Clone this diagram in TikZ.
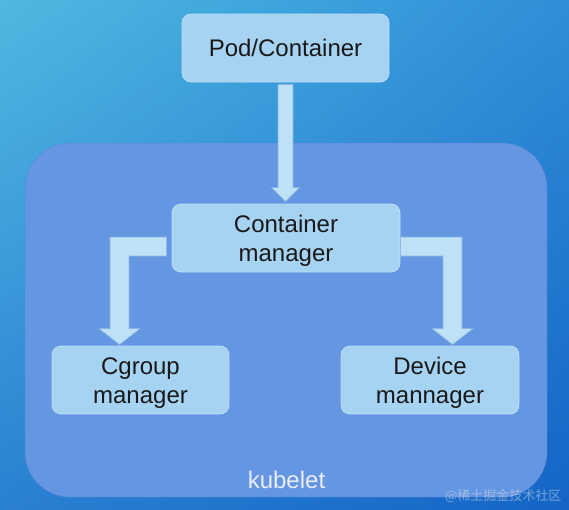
\documentclass[tikz,border=0pt]{standalone}
\usepackage{fontspec}
\setmainfont{Liberation Sans}
\newfontfamily\cjkfont{Noto Sans CJK SC}
\usetikzlibrary{calc,shadings}

\definecolor{bgtl}{HTML}{4FB9E0}
\definecolor{bgtr}{HTML}{2E8ED8}
\definecolor{bgbl}{HTML}{2A80D2}
\definecolor{bgbr}{HTML}{1564C6}
\definecolor{kubefill}{HTML}{6596E2}
\definecolor{kubeline}{HTML}{5585D6}
\definecolor{boxfill}{HTML}{A6D3F2}
\definecolor{boxline}{HTML}{B9DEF6}
\definecolor{arrowfill}{HTML}{BEE1F6}
\definecolor{arrowline}{HTML}{86B4E6}

\tikzset{
  box/.style={draw=boxline, line width=0.8pt, fill=boxfill, rounded corners=9pt,
    align=center, font=\fontsize{24}{29}\selectfont, text=black!90,
    minimum height=68pt, inner sep=0pt},
  twoline/.style={text height=52.5pt},
  fat/.style={draw=arrowline, line width=0.6pt, fill=arrowfill},
}

\begin{document}
\begin{tikzpicture}[x=1pt, y=-1pt]
    \useasboundingbox (0,0) rectangle (569,509);
    \shade[upper left=bgtl, upper right=bgtr, lower left=bgbl, lower right=bgbr]
      (0,0) rectangle (569,509);

    % kubelet frame
    \draw[draw=kubeline, fill=kubefill, rounded corners=45pt] (25,143) rectangle (547,497);
    \node[text=white!92!blue, font=\fontsize{24}{29}\selectfont] (kubelet) at (286.5,480) {kubelet};

    % components
    \node[box, minimum width=207pt] (pod) at (285.5,48) {Pod/Container};
    \node[box, twoline, minimum width=228pt] (cm) at (286,238) {Container\\manager};
    \node[box, twoline, minimum width=177pt] (cg) at (140.5,380) {Cgroup\\manager};
    \node[box, twoline, minimum width=178pt] (dev) at (430,380) {Device\\mannager};

    % pod -> container manager
    \draw[fat] let \p1=(pod.south), \p2=(cm.north) in
      (\x1-7.5pt,\y1-2pt) -- (\x1+7.5pt,\y1-2pt) -- (\x1+7.5pt,\y2+16pt)
      -- (\x1+14pt,\y2+16pt) -- (\x1,\y2+2pt) -- (\x1-14pt,\y2+16pt)
      -- (\x1-7.5pt,\y2+16pt) -- cycle;

    % container manager -> cgroup manager
    \draw[fat] let \p1=(cm.west), \p2=(cg.north) in
      (\x1-5pt,\y1+1pt) -- (\x2-30.5pt,\y1+1pt) -- (\x2-30.5pt,\y2+17pt)
      -- (\x2-41.5pt,\y2+17pt) -- (\x2-21pt,\y2+1pt) -- (\x2-0.5pt,\y2+17pt)
      -- (\x2-11.5pt,\y2+17pt) -- (\x2-11.5pt,\y1-18pt) -- (\x1-5pt,\y1-18pt) -- cycle;

    % container manager -> device mannager
    \draw[fat] let \p1=(cm.east), \p2=(dev.north) in
      (\x1,\y1+1pt) -- (\x2+32pt,\y1+1pt) -- (\x2+32pt,\y2+17pt)
      -- (\x2+43pt,\y2+17pt) -- (\x2+22.5pt,\y2+1pt) -- (\x2+2pt,\y2+17pt)
      -- (\x2+13pt,\y2+17pt) -- (\x2+13pt,\y1-18pt) -- (\x1,\y1-18pt) -- cycle;

    \node[text=white!85!gray, opacity=0.45, font=\cjkfont\fontsize{13}{15}\selectfont, anchor=east]
      (mark) at (565,496) {@稀土掘金技术社区};
\end{tikzpicture}
\end{document}
